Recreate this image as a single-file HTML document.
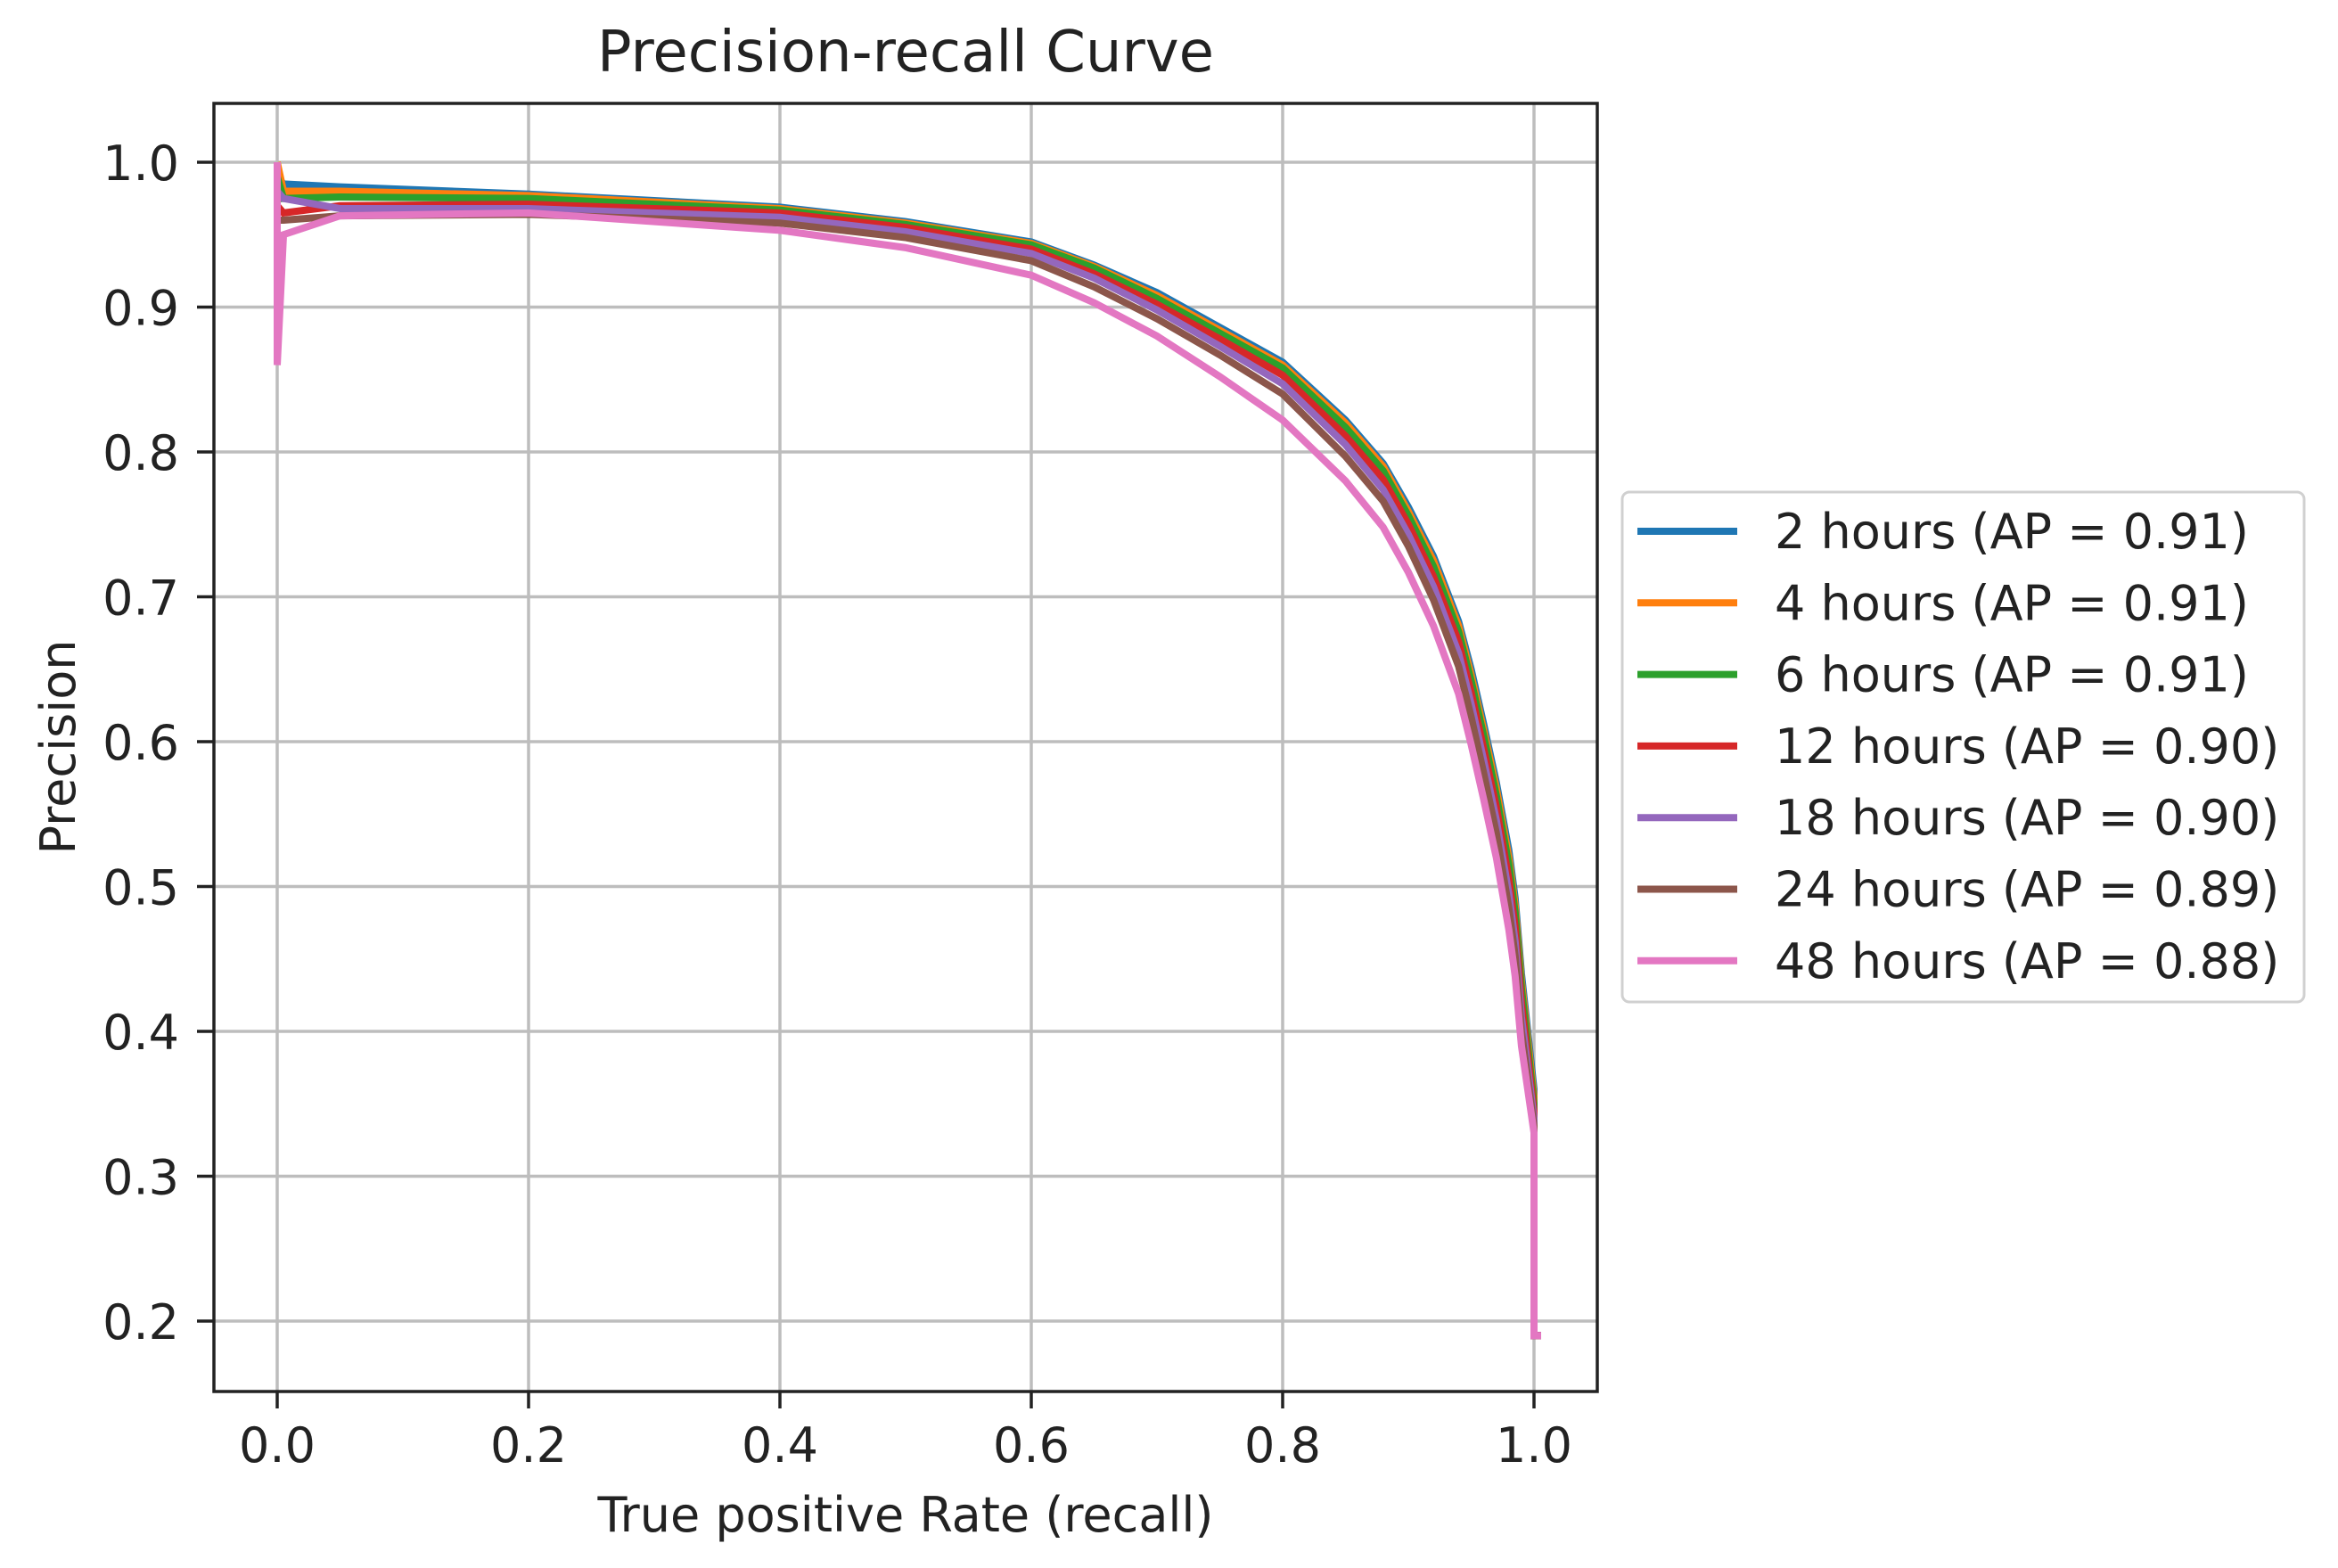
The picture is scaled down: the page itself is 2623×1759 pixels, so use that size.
<!DOCTYPE html>
<html><head><meta charset="utf-8"><style>
html,body{margin:0;padding:0;background:#fff;}
svg{display:block;font-family:"DejaVu Sans","Liberation Sans",sans-serif;}
</style></head><body>
<svg id="chart" width="2623" height="1759" viewBox="0 0 2623 1759" xmlns="http://www.w3.org/2000/svg">
<rect width="2623" height="1759" fill="#fff"/>
<g id="grid"></g>
<g id="series"></g>
<rect x="240" y="116" width="1552" height="1445" fill="none" stroke="#222" stroke-width="3.5"/>
<g id="ticks"></g>
<text x="1016" y="80" font-size="64" text-anchor="middle" fill="#222">Precision-recall Curve</text>
<text x="1016" y="1718" font-size="54" text-anchor="middle" fill="#222">True positive Rate (recall)</text>
<text x="84" y="838" font-size="54" text-anchor="middle" fill="#222" transform="rotate(-90 84 838)">Precision</text>
<g id="legend"></g>
</svg>
<script>
const xTicks = [0.0, 0.2, 0.4, 0.6, 0.8, 1.0];
const yTicks = [0.2, 0.3, 0.4, 0.5, 0.6, 0.7, 0.8, 0.9, 1.0];
const seriesNames = ["2 hours (AP = 0.91)","4 hours (AP = 0.91)","6 hours (AP = 0.91)","12 hours (AP = 0.90)","18 hours (AP = 0.90)","24 hours (AP = 0.89)","48 hours (AP = 0.88)"];
const seriesColors = ["#1f77b4","#ff7f0e","#2ca02c","#d62728","#9467bd","#8c564b","#e377c2"];
const recall = [0,0.005,0.05,0.2,0.4,0.5,0.6,0.65,0.7,0.75,0.8,0.85,0.88,0.9,0.92,0.94,0.95,0.96,0.97,0.98,0.985,0.99,1.0,1.0];
const prec2h  = [0.99,0.985,0.983,0.978,0.969,0.959,0.945,0.929,0.910,0.886,0.862,0.822,0.792,0.762,0.728,0.683,0.650,0.612,0.572,0.525,0.492,0.44,0.36,0.19];
const prec4h  = [1.0,0.98,0.98,0.977,0.968,0.958,0.944,0.928,0.908,0.884,0.860,0.820,0.790,0.759,0.725,0.680,0.646,0.608,0.568,0.520,0.487,0.435,0.355,0.19];
const prec6h  = [0.99,0.975,0.976,0.975,0.967,0.957,0.943,0.927,0.906,0.882,0.858,0.817,0.787,0.756,0.721,0.676,0.642,0.604,0.563,0.515,0.482,0.43,0.35,0.19];
const prec12h = [0.97,0.965,0.970,0.971,0.965,0.955,0.940,0.923,0.902,0.878,0.853,0.811,0.781,0.750,0.714,0.669,0.634,0.595,0.555,0.505,0.472,0.42,0.345,0.19];
const prec18h = [0.98,0.975,0.968,0.968,0.962,0.952,0.937,0.920,0.898,0.873,0.847,0.805,0.774,0.743,0.707,0.661,0.626,0.587,0.546,0.495,0.462,0.41,0.34,0.19];
const prec24h = [0.96,0.96,0.963,0.964,0.958,0.948,0.932,0.914,0.892,0.867,0.840,0.797,0.766,0.735,0.698,0.652,0.617,0.578,0.537,0.485,0.452,0.40,0.335,0.19];
const prec48h = [0.86,0.95,0.963,0.965,0.953,0.941,0.922,0.903,0.880,0.852,0.822,0.780,0.748,0.717,0.680,0.633,0.598,0.560,0.520,0.470,0.438,0.39,0.33,0.19];
const allSeries = [prec2h, prec4h, prec6h, prec12h, prec18h, prec24h, prec48h];

const NS = "http://www.w3.org/2000/svg";
function xScale(v){ return 311 + v * 1410; }
function yScale(v){ return 182 + (1 - v) * 1625; }
function mk(tag, attrs, parent){ const e = document.createElementNS(NS, tag); for (const k in attrs) e.setAttribute(k, attrs[k]); parent.appendChild(e); return e; }

const grid = document.getElementById('grid');
const ticks = document.getElementById('ticks');
xTicks.forEach(t => {
  const x = xScale(t);
  const g = mk('line', {x1:x, x2:x, y1:116, y2:1561, stroke:'#bdbdbd', 'stroke-width':3.5}, grid);
  
  
  const tk = mk('line', {x1:x, x2:x, y1:1561, y2:1580, stroke:'#222', 'stroke-width':3.5}, ticks);
  
  
  const lb = mk('text', {x:x, y:1640, 'font-size':54, 'text-anchor':'middle', fill:'#222'}, ticks);
  lb.textContent = t.toFixed(1);
  
  
});
yTicks.forEach(t => {
  const y = yScale(t);
  const g = mk('line', {x1:240, x2:1792, y1:y, y2:y, stroke:'#bdbdbd', 'stroke-width':3.5}, grid);
  
  
  const tk = mk('line', {x1:221, x2:240, y1:y, y2:y, stroke:'#222', 'stroke-width':3.5}, ticks);
  
  
  const lb = mk('text', {x:201, y:y + 20, 'font-size':54, 'text-anchor':'end', fill:'#222'}, ticks);
  lb.textContent = t.toFixed(1);
  
  
});

const seriesG = document.getElementById('series');
allSeries.forEach((vals, i) => {
  const pts = [];
  if (i === 6) pts.push(xScale(0) + ',' + yScale(1.0));
  for (let j = 0; j < recall.length; j++) {
    pts.push(xScale(recall[j]) + ',' + yScale(vals[j]));
  }
  pts.push((xScale(1.0) + 8) + ',' + yScale(vals[vals.length - 1]));
  const pl = mk('polyline', {points:pts.join(' '), fill:'none', stroke:seriesColors[i], 'stroke-width':8, 'stroke-linejoin':'miter'}, seriesG);
  
  
});

const legend = document.getElementById('legend');
const box = mk('rect', {x:1820, y:552, width:765, height:572, rx:8, fill:'#fff', 'fill-opacity':0.8, stroke:'#d0d0d0', 'stroke-width':3}, legend);


seriesNames.forEach((n, i) => {
  const y = 596 + i * 80.3;
  const ln = mk('line', {x1:1837, x2:1949, y1:y, y2:y, stroke:seriesColors[i], 'stroke-width':8}, legend);
  
  
  const tx = mk('text', {x:1991, y:y + 19, 'font-size':54, fill:'#222'}, legend);
  tx.textContent = n;
  
  
});
</script>
</body></html>
